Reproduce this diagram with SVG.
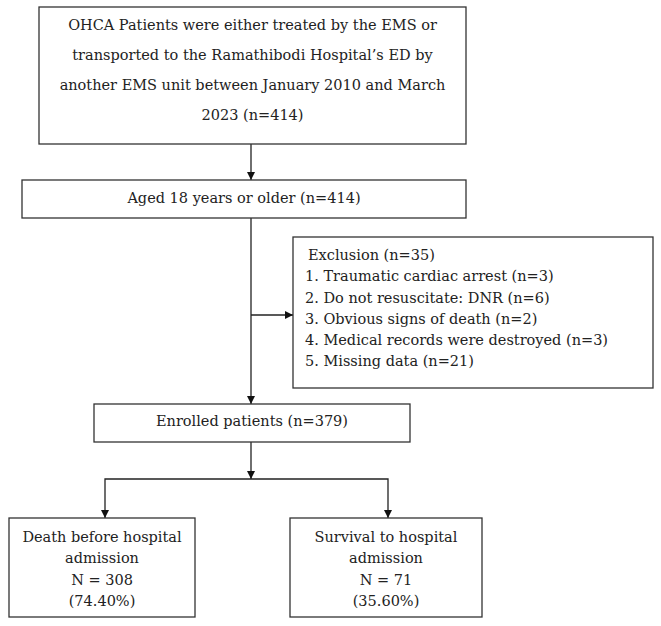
<svg xmlns="http://www.w3.org/2000/svg" width="661" height="626" viewBox="0 0 661 626">
<style>
.box{fill:#fff;stroke:#333;stroke-width:1.3}
.t{font-family:"DejaVu Serif","Liberation Serif",serif;font-size:14.5px;fill:#222}
.c{text-anchor:middle}
.ln{fill:none;stroke:#222;stroke-width:1.3}
</style>
<defs>
<marker id="ah" viewBox="0 0 10 10" refX="10" refY="5" markerWidth="8" markerHeight="8" markerUnits="userSpaceOnUse" orient="auto">
<path d="M0,0 L10,5 L0,10 z" fill="#111"/>
</marker>
</defs>
<rect width="661" height="626" fill="#fff"/>
<g id="connectors">
<path class="ln" d="M251,144 V180" marker-end="url(#ah)"/>
<path class="ln" d="M251,218 V404" marker-end="url(#ah)"/>
<path class="ln" d="M251,315 H293" marker-end="url(#ah)"/>
<path class="ln" d="M251,442 V479" marker-end="url(#ah)"/>
<path class="ln" d="M251,479 H105 V518" marker-end="url(#ah)"/>
<path class="ln" d="M251,479 H388 V518" marker-end="url(#ah)"/>
</g>
<g id="n-ohca">
<rect class="box" x="39" y="7" width="427" height="137"/>
<text class="t c" x="252.5" y="30">OHCA Patients were either treated by the EMS or</text>
<text class="t c" x="252.5" y="60">transported to the Ramathibodi Hospital’s ED by</text>
<text class="t c" x="252.5" y="90">another EMS unit between January 2010 and March</text>
<text class="t c" x="252.5" y="120">2023 (n=414)</text>
</g>
<g id="n-aged">
<rect class="box" x="22" y="180" width="444" height="38"/>
<text class="t c" x="244" y="203">Aged 18 years or older (n=414)</text>
</g>
<g id="n-exclusion">
<rect class="box" x="293" y="237" width="360" height="151"/>
<text class="t" x="308" y="260">Exclusion (n=35)</text>
<text class="t" x="305" y="281">1. Traumatic cardiac arrest (n=3)</text>
<text class="t" x="305" y="303">2. Do not resuscitate: DNR (n=6)</text>
<text class="t" x="305" y="324">3. Obvious signs of death (n=2)</text>
<text class="t" x="305" y="345">4. Medical records were destroyed (n=3)</text>
<text class="t" x="305" y="366">5. Missing data (n=21)</text>
</g>
<g id="n-enrolled">
<rect class="box" x="94" y="404" width="316" height="38"/>
<text class="t c" x="252" y="426">Enrolled patients (n=379)</text>
</g>
<g id="n-death">
<rect class="box" x="9" y="518" width="186" height="99"/>
<text class="t c" x="102" y="542">Death before hospital</text>
<text class="t c" x="102" y="563">admission</text>
<text class="t c" x="102" y="585">N = 308</text>
<text class="t c" x="102" y="606">(74.40%)</text>
</g>
<g id="n-survival">
<rect class="box" x="290" y="518" width="192" height="99"/>
<text class="t c" x="386" y="542">Survival to hospital</text>
<text class="t c" x="386" y="563">admission</text>
<text class="t c" x="386" y="585">N = 71</text>
<text class="t c" x="386" y="606">(35.60%)</text>
</g>
</svg>
